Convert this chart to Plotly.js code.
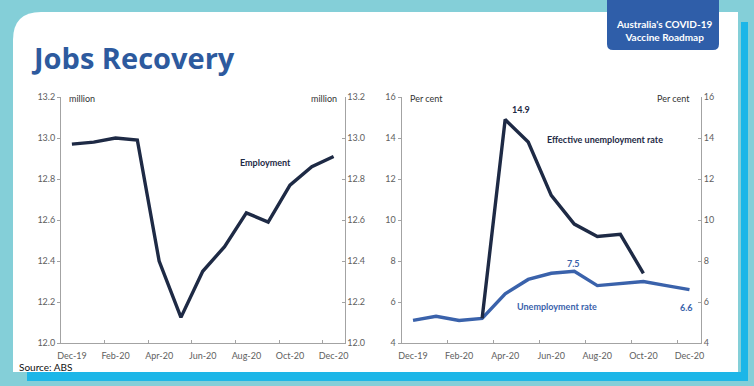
<!DOCTYPE html>
<html><head><meta charset="utf-8">
<script src="https://cdn.plot.ly/plotly-3.0.1.min.js"></script>
<style>html,body{margin:0;padding:0;background:#84cfd8;}#chart{width:754px;height:386px;}</style>
</head><body><div id="chart"></div>
<script>
// ---- data ----
const months = ['Dec-19','Jan-20','Feb-20','Mar-20','Apr-20','May-20','Jun-20','Jul-20','Aug-20','Sep-20','Oct-20','Nov-20','Dec-20'];
const employment = [12.97, 12.98, 13.00, 12.99, 12.40, 12.125, 12.35, 12.47, 12.635, 12.59, 12.77, 12.86, 12.91];
const unemploymentRate = [5.1, 5.3, 5.1, 5.2, 6.4, 7.1, 7.4, 7.5, 6.8, 6.9, 7.0, 6.8, 6.6];
const effectiveMonths = ['Mar-20','Apr-20','May-20','Jun-20','Jul-20','Aug-20','Sep-20','Oct-20'];
const effectiveRate = [5.2, 14.9, 13.8, 11.2, 9.8, 9.2, 9.3, 7.4];
const tickLabels = ['Dec-19','Feb-20','Apr-20','Jun-20','Aug-20','Oct-20','Dec-20'];

const W = 754, H = 386;
const fx = x => x / W, fy = y => 1 - y / H;
const idx = m => months.indexOf(m);
const xi = months.map((m, i) => i);
const effX = effectiveMonths.map(idx);
const tickVals = tickLabels.map(idx);

const dark = '#1e2a45', blue = '#3a62ab', gray = '#606060', axisCol = '#a3a3a3';
const teal = '#84cfd8', bright = '#1cb6e8';
const tf = {family: 'Lato, sans-serif', size: 9, color: gray};

const traces = [
  {x: xi, y: employment, xaxis: 'x', yaxis: 'y', mode: 'lines', line: {color: dark, width: 3.4}, hoverinfo: 'skip'},
  {x: xi, y: employment, xaxis: 'x', yaxis: 'y3', mode: 'lines', line: {color: 'rgba(0,0,0,0)', width: 0}, hoverinfo: 'skip'},
  {x: xi, y: unemploymentRate, xaxis: 'x2', yaxis: 'y2', mode: 'lines', line: {color: blue, width: 3.4}, hoverinfo: 'skip'},
  {x: effX, y: effectiveRate, xaxis: 'x2', yaxis: 'y2', mode: 'lines', line: {color: dark, width: 3.4}, hoverinfo: 'skip'},
  {x: xi, y: unemploymentRate, xaxis: 'x2', yaxis: 'y4', mode: 'lines', line: {color: 'rgba(0,0,0,0)', width: 0}, hoverinfo: 'skip'}
];

function xAx(d, anchor) {
  return {domain: d, anchor: anchor, range: [-0.5, 12.5], tickmode: 'array', tickvals: tickVals, ticktext: tickLabels,
    ticks: '', showline: true, linecolor: axisCol, linewidth: 1, showgrid: false, zeroline: false, tickfont: tf,
    ticklabelstandoff: 4,
    minor: {tickmode: 'array', tickvals: [1.5, 3.5, 5.5, 7.5, 9.5, 11.5], ticks: 'inside', ticklen: 3, tickcolor: axisCol, showgrid: false}};
}
function yAx(d, anchor, r, dt, fmt, side, over) {
  const a = {domain: d, anchor: anchor, range: r, dtick: dt, tick0: r[0], tickformat: fmt, side: side,
    ticks: side === 'left' ? 'outside' : 'inside', ticklen: 3, tickcolor: axisCol, showline: true, linecolor: axisCol, linewidth: 1,
    showgrid: false, zeroline: false, tickfont: tf};
  if (over) a.overlaying = over;
  return a;
}
const yd = [fy(343), fy(97)];

const card = `M ${fx(13)} ${fy(372)} L ${fx(13)} ${fy(40)} Q ${fx(13)} ${fy(12)} ${fx(41)} ${fy(12)} L ${fx(738)} ${fy(12)} L ${fx(738)} ${fy(372)} Z`;
const badge = `M ${fx(607)} ${fy(0)} L ${fx(719)} ${fy(0)} L ${fx(719)} ${fy(44)} Q ${fx(719)} ${fy(50)} ${fx(713)} ${fy(50)} L ${fx(613)} ${fy(50)} Q ${fx(607)} ${fy(50)} ${fx(607)} ${fy(44)} Z`;

const ann = (text, x, y, xref, yref, font, xanchor) => ({text, x, y, xref, yref, showarrow: false, font, xanchor: xanchor || 'center', yanchor: 'middle'});
const lblDark = {family: 'Lato, sans-serif', size: 9, color: dark, weight: 'bold'};
const lblBlue = {family: 'Lato, sans-serif', size: 9, color: blue, weight: 'bold'};
const unitF = {family: 'Lato, sans-serif', size: 9, color: '#333333'};

const layout = {
  width: W, height: H, margin: {l: 0, r: 0, t: 0, b: 0},
  paper_bgcolor: teal, plot_bgcolor: 'rgba(0,0,0,0)', showlegend: false,
  title: {text: 'Jobs Recovery', x: fx(34), xanchor: 'left', xref: 'paper', y: fy(59), yanchor: 'middle',
    font: {family: 'Open Sans, sans-serif', size: 29, color: '#2d5a9e', weight: 'bold'}},
  xaxis: xAx([fx(61), fx(344.5)], 'y'),
  yaxis: yAx(yd, 'x', [12.0, 13.2], 0.2, '.1f', 'left'),
  yaxis3: yAx(yd, 'x', [12.0, 13.2], 0.2, '.1f', 'right', 'y'),
  xaxis2: xAx([fx(401.5), fx(701)], 'y2'),
  yaxis2: yAx(yd, 'x2', [4, 16], 2, 'd', 'left'),
  yaxis4: yAx(yd, 'x2', [4, 16], 2, 'd', 'right', 'y2'),
  shapes: [
    {type: 'path', path: card, xref: 'paper', yref: 'paper', fillcolor: '#ffffff', line: {width: 0}, layer: 'below'},
    {type: 'rect', xref: 'paper', yref: 'paper', x0: fx(27), x1: fx(748), y0: fy(381), y1: fy(372), fillcolor: bright, line: {width: 0}, layer: 'below'},
    {type: 'rect', xref: 'paper', yref: 'paper', x0: fx(741), x1: fx(748), y0: fy(381), y1: fy(22), fillcolor: bright, line: {width: 0}, layer: 'below'},
    {type: 'path', path: badge, xref: 'paper', yref: 'paper', fillcolor: '#2f5ea9', line: {width: 0}, layer: 'below'}
  ],
  annotations: [
    ann('million', fx(67), fy(98), 'paper', 'paper', unitF, 'left'),
    ann('million', fx(339), fy(98), 'paper', 'paper', unitF, 'right'),
    ann('Per cent', fx(408), fy(98), 'paper', 'paper', unitF, 'left'),
    ann('Per cent', fx(692), fy(98), 'paper', 'paper', unitF, 'right'),
    ann('Employment', 8.9, 12.88, 'x', 'y', lblDark),
    ann('14.9', 4.7, 15.37, 'x2', 'y2', lblDark),
    ann('Effective unemployment rate', 8.33, 13.95, 'x2', 'y2', lblDark),
    ann('7.5', 6.97, 7.9, 'x2', 'y2', lblBlue),
    ann('Unemployment rate', 6.26, 5.8, 'x2', 'y2', lblBlue),
    ann('6.6', 11.86, 5.72, 'x2', 'y2', lblBlue),
    ann('Source: ABS', fx(17), fy(367), 'paper', 'paper', {family: 'Lato, sans-serif', size: 10, color: '#111111'}, 'left'),
    ann("Australia's COVID-19<br>Vaccine Roadmap", fx(664), fy(30), 'paper', 'paper', {family: 'Lato, sans-serif', size: 10, color: '#ffffff', weight: 'bold'})
  ]
};
Plotly.newPlot('chart', traces, layout, {staticPlot: true, displayModeBar: false});
</script></body></html>
